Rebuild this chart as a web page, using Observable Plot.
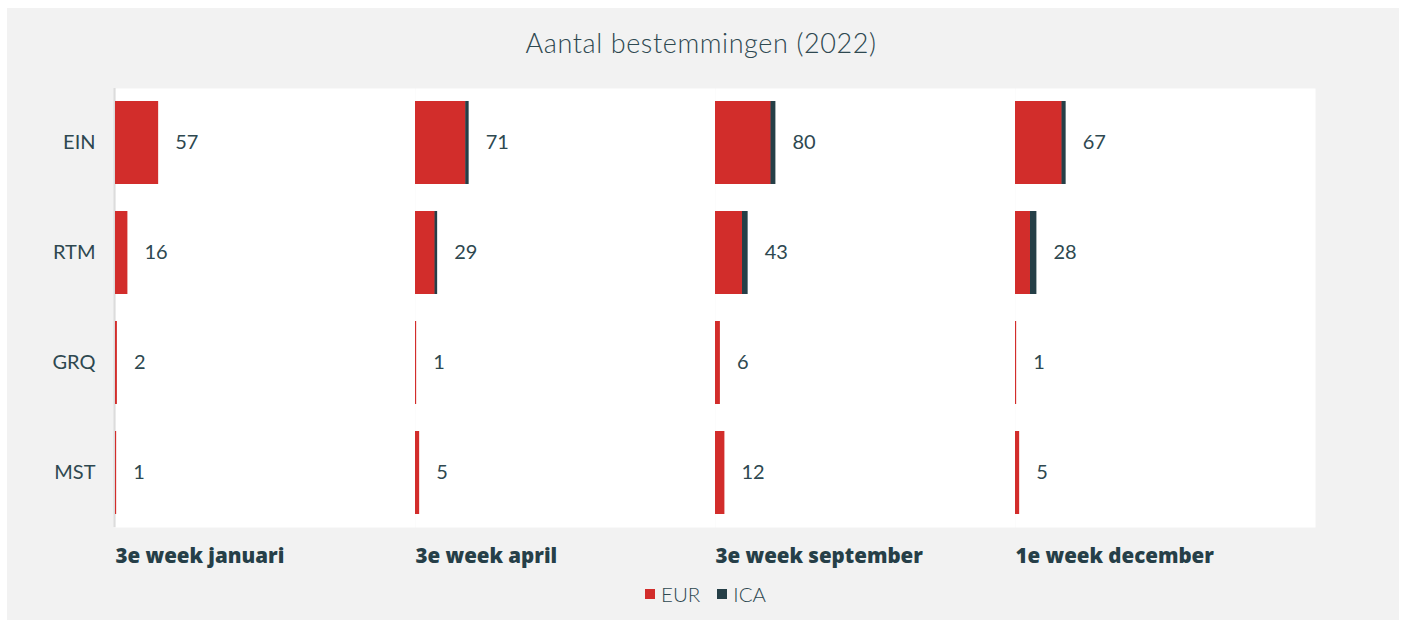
<!DOCTYPE html>
<html>
<head>
<meta charset="utf-8">
<script src="https://cdn.jsdelivr.net/npm/d3@7"></script>
<script src="https://cdn.jsdelivr.net/npm/@observablehq/plot@0.6"></script>
<style>
  html, body { margin: 0; padding: 0; background: #ffffff; width: 1402px; height: 628px; overflow: hidden; }
  #panel { position: absolute; left: 7px; top: 8px; width: 1392px; height: 612px; background: #f2f2f2; }
  #title { position: absolute; left: 0; top: 26px; width: 1402px; text-align: center;
           font-family: Lato, "Open Sans", sans-serif; font-size: 27px; color: #2e4850; font-weight: 300; letter-spacing: 0.6px; }
  #chart { position: absolute; left: 0; top: 70px; }
  #legend { position: absolute; left: 13px; top: 582px; width: 1402px; display: flex; justify-content: center; align-items: center;
            font-family: Lato, "Open Sans", sans-serif; font-size: 20.5px; font-weight: 300; color: #2e4850; }
  #legend .sw { display: inline-block; width: 10px; height: 10px; margin-right: 6px; }
  #legend .item { display: inline-flex; align-items: center; margin: 0 17px 0 0; }
</style>
</head>
<body>
<div id="panel"></div>
<div id="title">Aantal bestemmingen (2022)</div>
<div id="chart"></div>
<div id="legend"></div>
<script>
const weeks = ["3e week januari", "3e week april", "3e week september", "1e week december"];
const airports = ["EIN", "RTM", "GRQ", "MST"];
const series = ["EUR", "ICA"];
const colors = ["#d22d2b", "#253f47"];
// values per week, in airport order
const eur = {
  "3e week januari":   [57, 16, 2, 1],
  "3e week april":     [67, 26, 1, 5],
  "3e week september": [74, 36, 6, 12],
  "1e week december":  [62, 20, 1, 5]
};
const ica = {
  "3e week januari":   [0, 0, 0, 0],
  "3e week april":     [4, 3, 0, 0],
  "3e week september": [6, 7, 0, 0],
  "1e week december":  [5, 8, 0, 0]
};

const rows = [];
for (const w of weeks) airports.forEach((a, i) => rows.push({week: w, airport: a, type: "EUR", value: eur[w][i]}));
for (const w of weeks) airports.forEach((a, i) => rows.push({week: w, airport: a, type: "ICA", value: ica[w][i]}));
const barRows = rows.filter(d => d.value > 0);
const totals = [];
for (const w of weeks) airports.forEach((a, i) => totals.push({week: w, airport: a, total: eur[w][i] + ica[w][i]}));

const textColor = "#2e4850";

const chart = Plot.plot({
  width: 1402,
  height: 499,
  marginTop: 18,
  marginBottom: 42,
  marginLeft: 115,
  marginRight: 87,
  style: {fontFamily: "Lato, 'Open Sans', sans-serif", background: "transparent", color: textColor},
  fx: {domain: weeks, padding: 0, axis: null},
  x: {domain: [0, 400], axis: null},
  y: {domain: airports, paddingInner: 0.25, paddingOuter: 0.12, axis: null},
  color: {domain: series, range: colors},
  marks: [
    Plot.frame({fill: "white", stroke: null}),
    Plot.ruleX([{week: weeks[0]}], {x: () => 0, fx: "week", stroke: "#dcdcdc", strokeWidth: 2, dx: -1}),
    Plot.barX(barRows, Plot.stackX({x: "value", y: "airport", fill: "type", fx: "week", order: series,
      insetLeft: 0, insetRight: -0.4, insetTop: 0, insetBottom: 0, shapeRendering: "geometricPrecision"})),
    Plot.text(totals, {x: "total", y: "airport", fx: "week", text: d => String(d.total), dx: 17,
      textAnchor: "start", fontSize: 20, fill: textColor}),
    Plot.axisY({tickSize: 0, tickPadding: 20, fontSize: 20, color: textColor, label: null}),
    Plot.text(weeks, {fx: d => d, text: d => d, frameAnchor: "bottom-left", dy: 35, textAnchor: "start",
      fontSize: 20.5, fontWeight: 800, fontFamily: "'Open Sans', sans-serif", fill: "#263f48"})
  ]
});
document.getElementById("chart").appendChild(chart);

const leg = document.getElementById("legend");
series.forEach((s, i) => {
  const item = document.createElement("span");
  item.className = "item";
  const sw = document.createElement("span");
  sw.className = "sw";
  sw.style.background = colors[i];
  item.appendChild(sw);
  item.appendChild(document.createTextNode(s));
  leg.appendChild(item);
});
</script>
</body>
</html>
